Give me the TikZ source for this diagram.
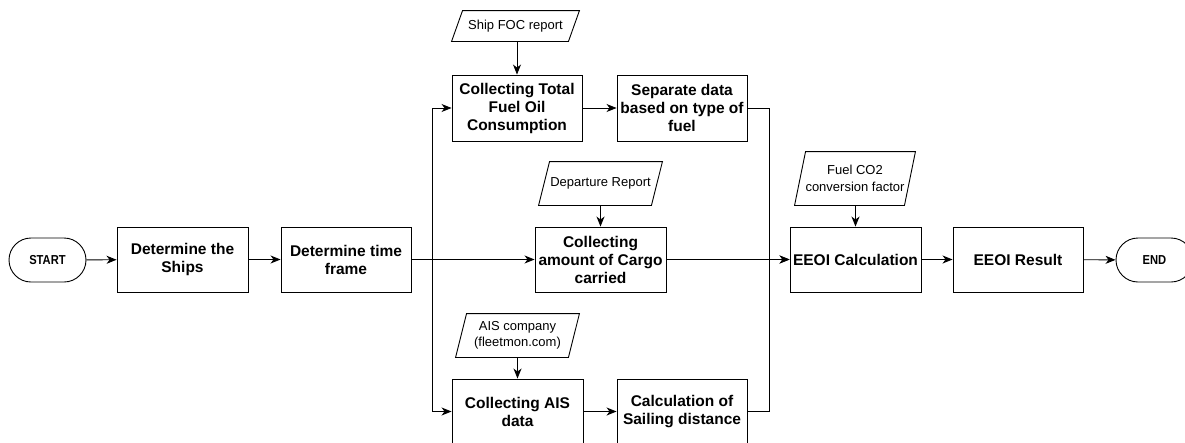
\documentclass[tikz,border=0pt]{standalone}
\usepackage{fontspec}
\setmainfont{Liberation Sans}
\newfontfamily\termfont{Liberation Sans}[FakeStretch=0.86]
\usetikzlibrary{arrows.meta}
\newcommand{\bx}{\bfseries\fontsize{15.5}{18}\selectfont}
\newcommand{\dt}{\fontsize{13}{16.5}\selectfont}
\newcommand{\dataframe}[1]{\draw ([xshift=11pt]#1.north west) -- (#1.north east)
   -- ([xshift=-11pt]#1.south east) -- (#1.south west) -- cycle;}

\begin{document}
\begin{tikzpicture}[x=1pt, y=-1pt, line width=0.9pt,
   >={Stealth[length=10pt,width=8pt,inset=3pt]},
   proc/.style={draw, minimum width=131pt, minimum height=65pt, inner sep=0pt,
      align=center, font=\bx},
   term/.style={draw, rounded corners=22pt, minimum width=77pt, minimum height=44pt,
      inner sep=0pt, font=\termfont\bfseries\fontsize{13}{15}\selectfont},
   datain/.style={minimum width=123pt, minimum height=43pt, inner sep=0pt,
      align=center, font=\dt}]
   \useasboundingbox (0,0) rectangle (1185,442);
   % main line
   \node[term] (start) at (47.5,260) {START};
   \node[proc] (ships) at (182.5,259.5) {Determine the\\Ships};
   \node[proc, minimum width=130pt] (frame) at (346,259.5) {Determine time\\frame};
   \node[proc] (cargo) at (600.5,259.5) {Collecting\\amount of Cargo\\carried};
   \node[proc] (eeoi) at (855.5,259.5) {EEOI Calculation};
   \node[proc, minimum width=130pt] (result) at (1018,259.5) {EEOI Result};
   \node[term] (end) at (1154.5,260) {END};
   % upper and lower branch
   \node[proc, minimum width=130pt, minimum height=66pt] (tfoc) at (517,108) {Collecting Total\\Fuel Oil\\Consumption};
   \node[proc, minimum width=130pt, minimum height=66pt] (sep) at (682,108) {Separate data\\based on type of\\fuel};
   \node[proc] (ais) at (517.5,411.5) {Collecting AIS\\data};
   \node[proc, minimum width=130pt] (sail) at (682,411.5) {Calculation of\\Sailing distance};
   % data inputs
   \node[datain, minimum width=127pt, minimum height=30pt] (focrep) at (515.5,26) {Ship FOC report};
   \node[datain] (deprep) at (600.5,183.5) {Departure Report};
   \node[datain] (aisrep) at (517.5,335.5) {AIS company\\(fleetmon.com)};
   \node[datain, minimum width=120pt, minimum height=53pt] (co2rep) at (855,178.5) {Fuel CO2\\conversion factor};
   \dataframe{focrep}
   \dataframe{deprep}
   \dataframe{aisrep}
   \dataframe{co2rep}
   \coordinate (split) at (432,259.5);
   \coordinate (merge) at (769,259.5);
   % connectors
   \draw[->] (start) -- (ships);
   \draw[->] (ships) -- (frame);
   \draw[->] (frame) -- (cargo);
   \draw[->] (split) |- (tfoc.west);
   \draw[->] (split) |- (ais.west);
   \draw[->] (tfoc) -- (sep);
   \draw[->] (ais) -- (sail);
   \draw[->] (sep.east) -| (merge) -- (eeoi.west);
   \draw (sail.east) -| (merge);
   \draw[->] (cargo) -- (eeoi);
   \draw[->] (eeoi) -- (result);
   \draw[->] (result) -- (end);
   \draw[->] (tfoc.north |- focrep.south) -- (tfoc.north);
   \draw[->] (cargo.north |- deprep.south) -- (cargo.north);
   \draw[->] (ais.north |- aisrep.south) -- (ais.north);
   \draw[->] (eeoi.north |- co2rep.south) -- (eeoi.north);
\end{tikzpicture}
\end{document}
